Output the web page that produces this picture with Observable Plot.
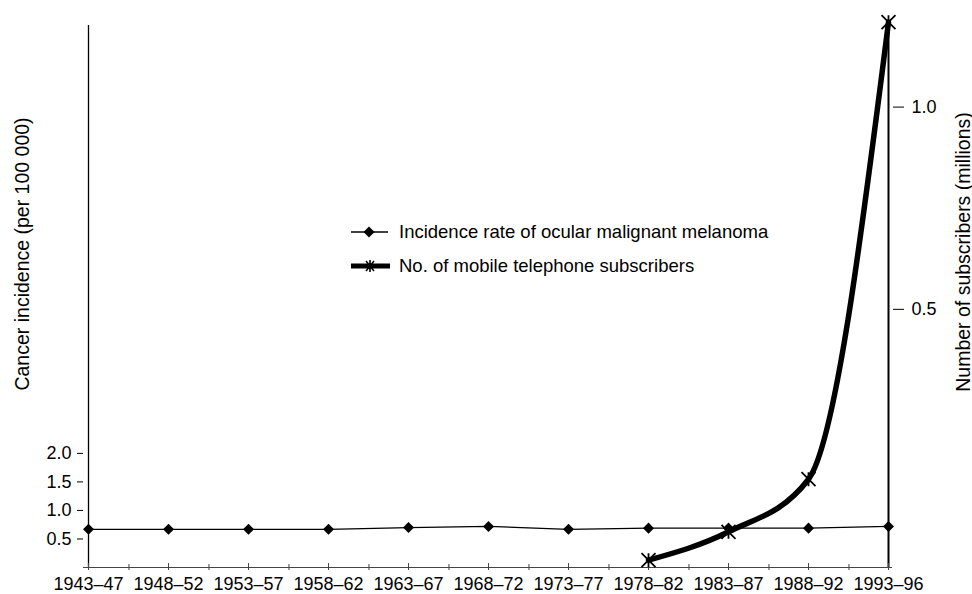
<!DOCTYPE html>
<html>
<head>
<meta charset="utf-8">
<script src="https://cdn.jsdelivr.net/npm/d3@7"></script>
<script src="https://cdn.jsdelivr.net/npm/@observablehq/plot@0.6"></script>
<style>
  html, body { margin: 0; padding: 0; background: #fff; overflow: hidden; }
  #chart { position: relative; width: 972px; height: 594px; }
  #chart svg { max-width: none !important; display: block; }
</style>
</head>
<body>
<div id="chart"></div>
<script>
// ---- data ----
const categories = ["1943–47","1948–52","1953–57","1958–62","1963–67","1968–72","1973–77","1978–82","1983–87","1988–92","1993–96"];
const incidence = [0.67,0.67,0.67,0.67,0.70,0.72,0.67,0.69,0.69,0.69,0.72];
const subscriberPeriods = ["1978–82","1983–87","1988–92","1993–96"];
const subscribers = [-0.12,-0.05,0.08,1.21];
const leftTicks = [0.5,1.0,1.5,2.0];
const rightTicks = [0.5,1.0];
const legendLabels = ["Incidence rate of ocular malignant melanoma","No. of mobile telephone subscribers"];
const leftTitle = "Cancer incidence (per 100 000)";
const rightTitle = "Number of subscribers (millions)";

// right axis (millions) expressed in left-axis units
const rightOffset = 0.98, rightFactor = 7.09;
const toLeft = r => rightOffset + rightFactor * r;
const fromLeft = l => (l - rightOffset) / rightFactor;

const incData = categories.map((c, i) => ({period: c, value: incidence[i]}));
const subData = subscriberPeriods.map((c, i) => ({period: c, value: toLeft(subscribers[i])}));

const W = 972, H = 594, mL = 83, mR = 80, mT = 25, mB = 27;
const step = (W - mL - mR) / (categories.length - 1);

const starSymbol = {
  draw(ctx, size) {
    const r = Math.sqrt(size / Math.PI);
    ctx.moveTo(-r, -r); ctx.lineTo(r, r);
    ctx.moveTo(r, -r); ctx.lineTo(-r, r);
    ctx.moveTo(0, -r); ctx.lineTo(0, r);
  }
};

const font = "'Liberation Sans', Arial, Helvetica, sans-serif";

const plot = Plot.plot({
  width: W, height: H,
  marginLeft: mL, marginRight: mR, marginTop: mT, marginBottom: mB,
  style: {fontFamily: font, fontSize: "18px", color: "#000", background: "#fff", overflow: "visible"},
  x: {type: "point", domain: categories, padding: 0},
  y: {domain: [0, 9.5]},
  marks: [
    Plot.ruleY([0], {stroke: "#444", strokeWidth: 1}),
    Plot.ruleX([categories[0]], {stroke: "#000", strokeWidth: 1.3}),
    Plot.ruleX([categories[categories.length - 1]], {stroke: "#000", strokeWidth: 2}),
    Plot.axisY({anchor: "left", ticks: leftTicks, tickFormat: d => d.toFixed(1), tickSize: 6, tickPadding: 6, label: null}),
    Plot.axisY({anchor: "right", ticks: rightTicks.map(toLeft), tickFormat: d => fromLeft(d).toFixed(1), tickSize: 11, tickPadding: 8, label: null}),
    Plot.axisX({ticks: categories, tickSize: 0, tickPadding: 10, label: null}),
    Plot.axisX({ticks: categories, tickFormat: () => "", tickSize: 7, dy: -4, label: null, stroke: "#444"}),
    Plot.axisX({ticks: categories.slice(0, -1), tickFormat: () => "", tickSize: 6, dx: step / 2, dy: -3, label: null, stroke: "#444"}),
    Plot.line(incData, {x: "period", y: "value", stroke: "#000", strokeWidth: 1.3}),
    Plot.dot(incData, {x: "period", y: "value", symbol: "square", rotate: 45, r: 4.4, fill: "#000", stroke: "none"}),
    Plot.line(subData, {x: "period", y: "value", stroke: "#000", strokeWidth: 5.5, curve: "monotone-x"}),
    Plot.dot(subData, {x: "period", y: "value", symbol: starSymbol, r: 7, stroke: "#000", strokeWidth: 1.8, fill: "none"})
  ]
});

const svg = d3.select(plot);

// axis titles
const tg = svg.append("g").attr("font-family", font).attr("font-size", 19.5).attr("fill", "#000").attr("text-anchor", "middle");
tg.append("text").attr("transform", "translate(22,254) rotate(-90)").attr("dy", "0.35em").text(leftTitle);
tg.append("text").attr("transform", "translate(963,252) rotate(-90)").attr("dy", "0.35em").text(rightTitle);

// legend inside the plot area
const lg = svg.append("g").attr("font-family", font).attr("font-size", 18.5).attr("fill", "#000").attr("text-anchor", "start");
const rows = [232, 266];
lg.append("line").attr("x1", 351).attr("x2", 388).attr("y1", rows[0]).attr("y2", rows[0]).attr("stroke", "#000").attr("stroke-width", 1.3);
lg.append("path").attr("d", d3.symbol(d3.symbolSquare, 60)()).attr("transform", `translate(369,${rows[0]}) rotate(45)`).attr("fill", "#000");
lg.append("line").attr("x1", 351).attr("x2", 390).attr("y1", rows[1]).attr("y2", rows[1]).attr("stroke", "#000").attr("stroke-width", 5);
lg.append("path").attr("d", "M-4,-5L4,5M4,-5L-4,5M0,-6L0,6").attr("transform", `translate(370,${rows[1]})`).attr("stroke", "#000").attr("stroke-width", 1.6).attr("fill", "none");
legendLabels.forEach((t, i) => {
  lg.append("text").attr("x", 399).attr("y", rows[i]).attr("dy", "0.35em").text(t);
});

document.getElementById("chart").appendChild(plot);
</script>
</body>
</html>
